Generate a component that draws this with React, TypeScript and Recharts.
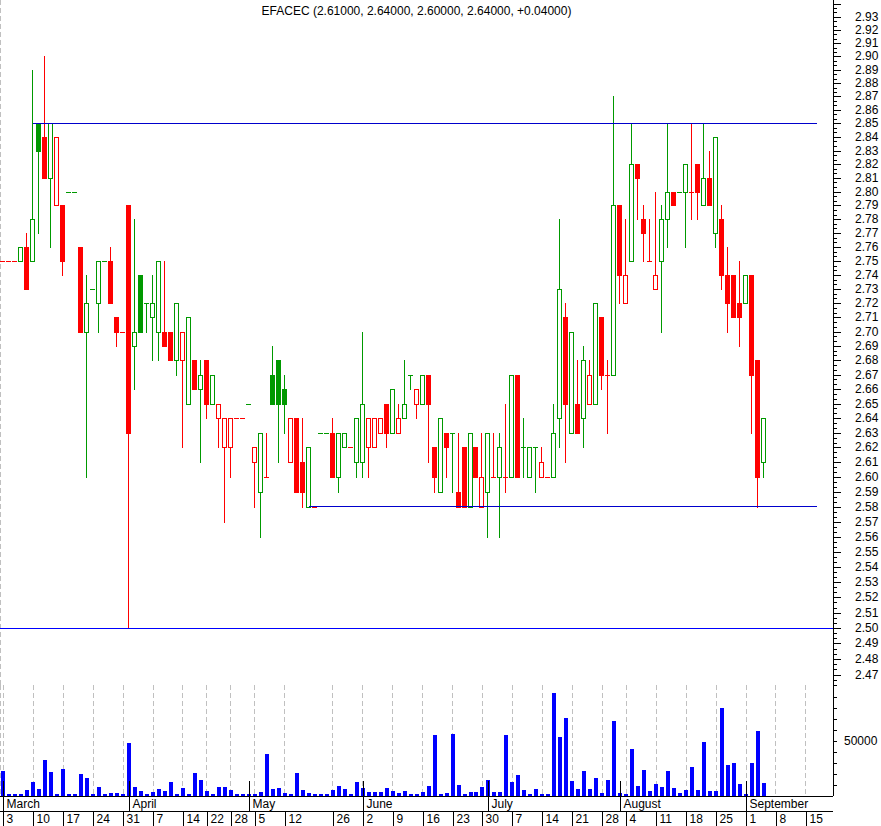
import React from "react";
import { ComposedChart, Bar, XAxis, YAxis, CartesianGrid, ReferenceLine } from "recharts";

// daily prices, one entry per trading slot (Mar 3 .. Sep 3)
const opens = [
  2.75, 2.75, 2.75, 2.75, 2.76, 2.75, 2.85, 2.84, 2.81, 2.79,
  2.79, 2.80, 2.80, 2.76, 2.70, 2.73, 2.72, 2.75, 2.75, 2.71,
  2.70, 2.79, 2.69, 2.74, 2.72, 2.71, 2.70, 2.70, 2.70, 2.68,
  2.68, 2.65, 2.68, 2.66, 2.68, 2.65, 2.64, 2.62, 2.62, 2.64,
  2.64, 2.65, 2.61, 2.59, 2.60, 2.67, 2.68, 2.66, 2.61, 2.64,
  2.61, 2.58, 2.58, 2.63, 2.63, 2.63, 2.60, 2.62, 2.62, 2.61,
  2.61, 2.62, 2.62, 2.63, 2.65, 2.63, 2.63, 2.64, 2.67, 2.65,
  2.65, 2.67, 2.62, 2.59, 2.63, 2.63, 2.59, 2.62, 2.58, 2.62,
  2.58, 2.59, 2.60, 2.60, 2.60, 2.60, 2.67, 2.62, 2.60, 2.62,
  2.60, 2.60, 2.60, 2.64, 2.71, 2.63, 2.65, 2.64, 2.65, 2.65,
  2.71, 2.67, 2.67, 2.79, 2.72, 2.75, 2.82, 2.78, 2.75, 2.73,
  2.75, 2.78, 2.80, 2.80, 2.80, 2.80, 2.82, 2.79, 2.81, 2.77,
  2.78, 2.74, 2.74, 2.72, 2.72, 2.74, 2.68, 2.61,
];
const highs = [
  2.75, 2.75, 2.75, 2.76, 2.77, 2.89, 2.85, 2.90, 2.85, 2.84,
  2.79, 2.80, 2.80, 2.76, 2.74, 2.73, 2.75, 2.75, 2.76, 2.71,
  2.70, 2.79, 2.78, 2.74, 2.72, 2.74, 2.75, 2.75, 2.70, 2.72,
  2.70, 2.71, 2.68, 2.68, 2.68, 2.67, 2.65, 2.64, 2.64, 2.64,
  2.64, 2.65, 2.62, 2.63, 2.63, 2.69, 2.68, 2.67, 2.64, 2.64,
  2.64, 2.62, 2.58, 2.63, 2.63, 2.64, 2.63, 2.63, 2.62, 2.64,
  2.70, 2.64, 2.64, 2.64, 2.65, 2.66, 2.65, 2.68, 2.67, 2.66,
  2.67, 2.67, 2.62, 2.64, 2.63, 2.63, 2.63, 2.62, 2.63, 2.62,
  2.63, 2.63, 2.63, 2.63, 2.65, 2.67, 2.67, 2.64, 2.62, 2.62,
  2.62, 2.60, 2.65, 2.78, 2.72, 2.70, 2.68, 2.69, 2.68, 2.72,
  2.71, 2.68, 2.87, 2.79, 2.78, 2.85, 2.82, 2.79, 2.78, 2.80,
  2.79, 2.85, 2.80, 2.80, 2.82, 2.85, 2.82, 2.85, 2.83, 2.84,
  2.79, 2.76, 2.74, 2.75, 2.74, 2.74, 2.68, 2.64,
];
const lows = [
  2.75, 2.75, 2.75, 2.75, 2.73, 2.75, 2.77, 2.81, 2.76, 2.79,
  2.74, 2.80, 2.80, 2.70, 2.60, 2.73, 2.70, 2.75, 2.72, 2.69,
  2.70, 2.50, 2.66, 2.70, 2.70, 2.68, 2.68, 2.69, 2.68, 2.67,
  2.62, 2.65, 2.66, 2.61, 2.64, 2.65, 2.62, 2.57, 2.60, 2.64,
  2.64, 2.65, 2.58, 2.56, 2.60, 2.65, 2.61, 2.63, 2.61, 2.59,
  2.58, 2.58, 2.58, 2.63, 2.63, 2.60, 2.59, 2.62, 2.62, 2.60,
  2.60, 2.60, 2.62, 2.63, 2.62, 2.63, 2.63, 2.64, 2.66, 2.64,
  2.65, 2.61, 2.59, 2.59, 2.60, 2.59, 2.58, 2.58, 2.58, 2.60,
  2.58, 2.56, 2.60, 2.56, 2.59, 2.60, 2.60, 2.60, 2.60, 2.59,
  2.60, 2.60, 2.60, 2.62, 2.61, 2.63, 2.63, 2.62, 2.65, 2.65,
  2.66, 2.63, 2.67, 2.72, 2.72, 2.75, 2.78, 2.75, 2.75, 2.73,
  2.70, 2.76, 2.79, 2.80, 2.76, 2.78, 2.78, 2.79, 2.79, 2.76,
  2.73, 2.70, 2.71, 2.69, 2.72, 2.63, 2.58, 2.60,
];
const closes = [
  2.75, 2.75, 2.75, 2.76, 2.73, 2.78, 2.83, 2.81, 2.85, 2.84,
  2.75, 2.80, 2.80, 2.70, 2.72, 2.73, 2.75, 2.75, 2.72, 2.70,
  2.70, 2.63, 2.70, 2.70, 2.72, 2.72, 2.75, 2.69, 2.68, 2.72,
  2.70, 2.71, 2.66, 2.67, 2.65, 2.67, 2.65, 2.64, 2.64, 2.64,
  2.64, 2.65, 2.62, 2.63, 2.60, 2.65, 2.65, 2.65, 2.64, 2.59,
  2.59, 2.62, 2.58, 2.63, 2.63, 2.60, 2.63, 2.63, 2.62, 2.64,
  2.65, 2.64, 2.64, 2.64, 2.63, 2.66, 2.64, 2.65, 2.67, 2.66,
  2.67, 2.65, 2.60, 2.64, 2.62, 2.63, 2.58, 2.58, 2.63, 2.60,
  2.60, 2.63, 2.60, 2.62, 2.60, 2.67, 2.60, 2.62, 2.62, 2.62,
  2.61, 2.60, 2.63, 2.73, 2.65, 2.70, 2.63, 2.68, 2.67, 2.72,
  2.67, 2.67, 2.79, 2.74, 2.74, 2.82, 2.81, 2.77, 2.75, 2.74,
  2.78, 2.80, 2.79, 2.80, 2.82, 2.80, 2.80, 2.81, 2.79, 2.84,
  2.74, 2.72, 2.71, 2.71, 2.74, 2.67, 2.60, 2.64,
];
const volumes = [
  23000, 2100, 1500, 2100, 5200, 12400, 6100, 32400, 22100, 2100,
  24800, 2100, 2100, 19700, 16100, 2100, 8200, 1500, 3000, 3000,
  1500, 48500, 8200, 4200, 1800, 3300, 6400, 4500, 12400, 1500,
  7000, 2100, 20600, 14200, 4200, 1800, 8200, 8200, 5200, 1800,
  1800, 1800, 1800, 3300, 37900, 6100, 7000, 3000, 2100, 20600,
  5200, 3000, 2100, 2100, 1500, 5200, 9100, 6100, 2100, 12400,
  7000, 3300, 3300, 3300, 7000, 4200, 3000, 4200, 2100, 2100,
  3300, 9100, 55500, 1800, 3000, 56700, 10000, 2100, 3300, 3300,
  8200, 14200, 3300, 3300, 55200, 12700, 19100, 5200, 2100, 6100,
  2100, 2100, 93300, 53300, 70600, 13300, 6400, 23000, 6100, 16100,
  3000, 14200, 68200, 3000, 2100, 42700, 9100, 23900, 4200, 10600,
  8200, 23000, 7000, 3000, 5200, 26100, 5200, 49400, 4200, 4200,
  80300, 28200, 29700, 10600, 2100, 30300, 59100, 11500,
];

const weekSlots = [0, 5, 10, 15, 20, 25, 30, 34, 38, 42, 47, 55, 60, 65, 70, 75, 80, 85, 90, 95, 100, 104, 109, 114, 119, 124, 129, 134];
const weekLabels = ["3", "10", "17", "24", "31", "7", "14", "22", "28", "5", "12", "26", "2", "9", "16", "23", "30", "7", "14", "21", "28", "4", "11", "18", "25", "1", "8", "15"];
const monthSlots = [0, 21, 41, 60, 81, 103, 124];
const monthLabels = ["March", "April", "May", "June", "July", "August", "September"];

const priceLabels = [
  2.47, 2.48, 2.49, 2.50, 2.51, 2.52, 2.53, 2.54, 2.55, 2.56, 2.57, 2.58, 2.59, 2.60,
  2.61, 2.62, 2.63, 2.64, 2.65, 2.66, 2.67, 2.68, 2.69, 2.70, 2.71, 2.72, 2.73, 2.74,
  2.75, 2.76, 2.77, 2.78, 2.79, 2.80, 2.81, 2.82, 2.83, 2.84, 2.85, 2.86, 2.87, 2.88,
  2.89, 2.90, 2.91, 2.92, 2.93,
];
const volumeTicks = [10000, 20000, 30000, 40000, 50000, 60000, 70000, 80000, 90000];
const volumeLabelAt = 50000;

const title = "EFACEC (2.61000, 2.64000, 2.60000, 2.64000, +0.04000)";

const resistance = 2.85;
const support = 2.58;
const floorLevel = 2.5;
const resistanceFrom = 5;
const supportFrom = 51;
const linesTo = 135.85;

const X_DOMAIN: [number, number] = [-0.551, 138.52];
const PRICE_DOMAIN: [number, number] = [2.4633, 2.9428];
const VOL_DOMAIN: [number, number] = [0, 100909];

const FONT = '"Liberation Sans", Arial, sans-serif';
const GREEN = "#009900";
const RED = "#ff0000";

let prevDir = "down";
const candles = opens.map((o, i) => {
  const c = closes[i];
  const pc = i > 0 ? closes[i - 1] : c;
  const dir = c > pc ? "up" : c < pc ? "down" : prevDir;
  prevDir = dir;
  return { slot: i, o, h: highs[i], l: lows[i], c, range: [lows[i], highs[i]], dir };
});

const volData = volumes.map((v, i) => ({ slot: i, vol: v }));

// minor ticks: two between each labelled price
const step = 0.01 / 3;
const priceTicks: number[] = [];
for (let i = -2; i <= priceLabels.length * 3; i++) {
  const v = priceLabels[0] + i * step;
  if (v > PRICE_DOMAIN[0] && v < PRICE_DOMAIN[1]) priceTicks.push(v);
}
const labelText = (v: number) => {
  const hit = priceLabels.find((p) => Math.abs(p - v) < 1e-6);
  return hit === undefined ? null : hit.toFixed(2);
};

function CandleShape(props: any) {
  const { x, y, width, height, payload } = props;
  if (x == null || y == null || !payload) return null;
  const { o, h, l, c, dir } = payload;
  const color = dir === "up" ? GREEN : RED;
  const top = Math.min(y, y + (height || 0));
  const bot = Math.max(y, y + (height || 0));
  const span = Math.log(h) - Math.log(l);
  const py = (p: number) => (span > 0 ? top + ((bot - top) * (Math.log(h) - Math.log(p))) / span : top);
  const left = Math.floor(x + width / 2) - 2;
  const cx = left + 2.5;
  const yh = Math.round(py(h));
  const yl = Math.round(py(l));
  const yo = Math.round(py(o));
  const yc = Math.round(py(c));
  const bTop = Math.min(yo, yc);
  const bH = Math.max(yo, yc) - bTop + 1;
  return (
    <g>
      {yl > yh && <rect x={left + 2} y={yh} width={1} height={yl - yh + 1} fill={color} />}
      {o === c && <rect x={left} y={yo} width={5} height={1} fill={color} />}
      {o !== c && <rect x={left} y={bTop} width={5} height={bH} fill={color} />}
      {c > o && bH > 2 && <rect x={left + 1} y={bTop + 1} width={3} height={bH - 2} fill="#fff" />}
    </g>
  );
}

function PriceTick(props: any) {
  const { x, y, payload } = props;
  const text = labelText(payload.value as number);
  const major = Math.abs(payload.value * 100 - Math.round(payload.value * 100)) < 1e-6;
  const yy = Math.round(y) + 0.5;
  return (
    <g>
      <line x1={x} x2={x + (major ? 8 : 4)} y1={yy} y2={yy} stroke="#000" />
      {text && (
        <text x={x + 22} y={y + 4} fontSize={12} fontFamily={FONT} fill="#000">
          {text}
        </text>
      )}
    </g>
  );
}

function VolumeTick(props: any) {
  const { x, y, payload } = props;
  const v = payload.value as number;
  const yy = Math.round(y) + 0.5;
  return (
    <g>
      <line x1={x} x2={x + 4} y1={yy} y2={yy} stroke="#000" />
      {v === volumeLabelAt && (
        <text x={x + 11} y={y + 4} fontSize={12} fontFamily={FONT} fill="#000">
          {String(v)}
        </text>
      )}
    </g>
  );
}

function WeekTick(props: any) {
  const { x, y, payload } = props;
  const i = weekSlots.indexOf(payload.value);
  const xx = Math.round(x) + 0.5;
  return (
    <g>
      <line x1={xx} x2={xx} y1={y} y2={y + 15} stroke="#000" />
      <text x={xx + 3} y={y + 12} fontSize={12} fontFamily={FONT} fill="#000">
        {weekLabels[i]}
      </text>
    </g>
  );
}

function MonthTick(props: any) {
  const { x, y, payload } = props;
  const i = monthSlots.indexOf(payload.value);
  const xx = Math.round(x) + 0.5;
  return (
    <g>
      <line x1={xx} x2={xx} y1={y - 15} y2={y + 15} stroke="#000" />
      <text x={xx + 3} y={y + 12} fontSize={12} fontFamily={FONT} fill="#000">
        {monthLabels[i]}
      </text>
    </g>
  );
}

export default function App() {
  return (
    <div
      className="chartwrap"
      style={{ position: "absolute", left: 0, top: 0, width: 881, height: 826, background: "#fff", overflow: "hidden" }}
    >
      <style>{".chartwrap svg line, .chartwrap svg rect, .chartwrap svg path { shape-rendering: crispEdges; }"}</style>

      <div style={{ position: "absolute", left: 0, top: 0 }}>
        <ComposedChart width={881} height={686} data={candles} margin={{ top: 0, right: 0, bottom: 1, left: 0 }}>
          <CartesianGrid horizontal={false} stroke="#c0c0c0" strokeDasharray="5 3" />
          <XAxis
            dataKey="slot"
            type="number"
            domain={X_DOMAIN}
            allowDataOverflow
            ticks={weekSlots}
            interval={0}
            height={0}
            tick={false}
            tickLine={false}
            axisLine={{ stroke: "#000" }}
          />
          <YAxis
            orientation="right"
            scale="log"
            domain={PRICE_DOMAIN}
            allowDataOverflow
            ticks={priceTicks}
            interval={0}
            width={48}
            tickSize={0}
            tickMargin={0}
            tickLine={false}
            tick={PriceTick}
            axisLine={{ stroke: "#000" }}
          />
          <ReferenceLine y={floorLevel} stroke="#0000ff" />
          <Bar dataKey="range" barSize={5} shape={CandleShape} isAnimationActive={false} />
          <ReferenceLine
            segment={[{ x: resistanceFrom, y: resistance }, { x: linesTo, y: resistance }]}
            stroke="#0000cc"
          />
          <ReferenceLine
            segment={[{ x: supportFrom, y: support }, { x: linesTo, y: support }]}
            stroke="#0000cc"
          />
        </ComposedChart>
      </div>

      <div style={{ position: "absolute", left: 0, top: 685 }}>
        <ComposedChart width={881} height={141} data={volData} margin={{ top: 0, right: 0, bottom: 0, left: 0 }}>
          <CartesianGrid xAxisId="week" horizontal={false} stroke="#c0c0c0" strokeDasharray="5 3" />
          <XAxis
            xAxisId="week"
            dataKey="slot"
            type="number"
            domain={X_DOMAIN}
            allowDataOverflow
            ticks={weekSlots}
            interval={0}
            height={15}
            tickSize={0}
            tickMargin={0}
            tickLine={false}
            tick={WeekTick}
            axisLine={{ stroke: "#000" }}
          />
          <XAxis
            xAxisId="month"
            dataKey="slot"
            type="number"
            domain={X_DOMAIN}
            allowDataOverflow
            ticks={monthSlots}
            interval={0}
            height={15}
            tickSize={0}
            tickMargin={0}
            tickLine={false}
            tick={MonthTick}
            axisLine={{ stroke: "#000" }}
          />
          <YAxis
            orientation="right"
            domain={VOL_DOMAIN}
            allowDataOverflow
            ticks={volumeTicks}
            interval={0}
            width={48}
            tickSize={0}
            tickMargin={0}
            tickLine={false}
            tick={VolumeTick}
            axisLine={{ stroke: "#000" }}
          />
          <Bar xAxisId="week" dataKey="vol" barSize={4} fill="#0000ff" isAnimationActive={false} />
        </ComposedChart>
      </div>

      <div
        style={{
          position: "absolute",
          left: 0,
          top: 4,
          width: 833,
          textAlign: "center",
          fontFamily: FONT,
          fontSize: 12,
          color: "#000",
          lineHeight: "14px",
        }}
      >
        {title}
      </div>
    </div>
  );
}
